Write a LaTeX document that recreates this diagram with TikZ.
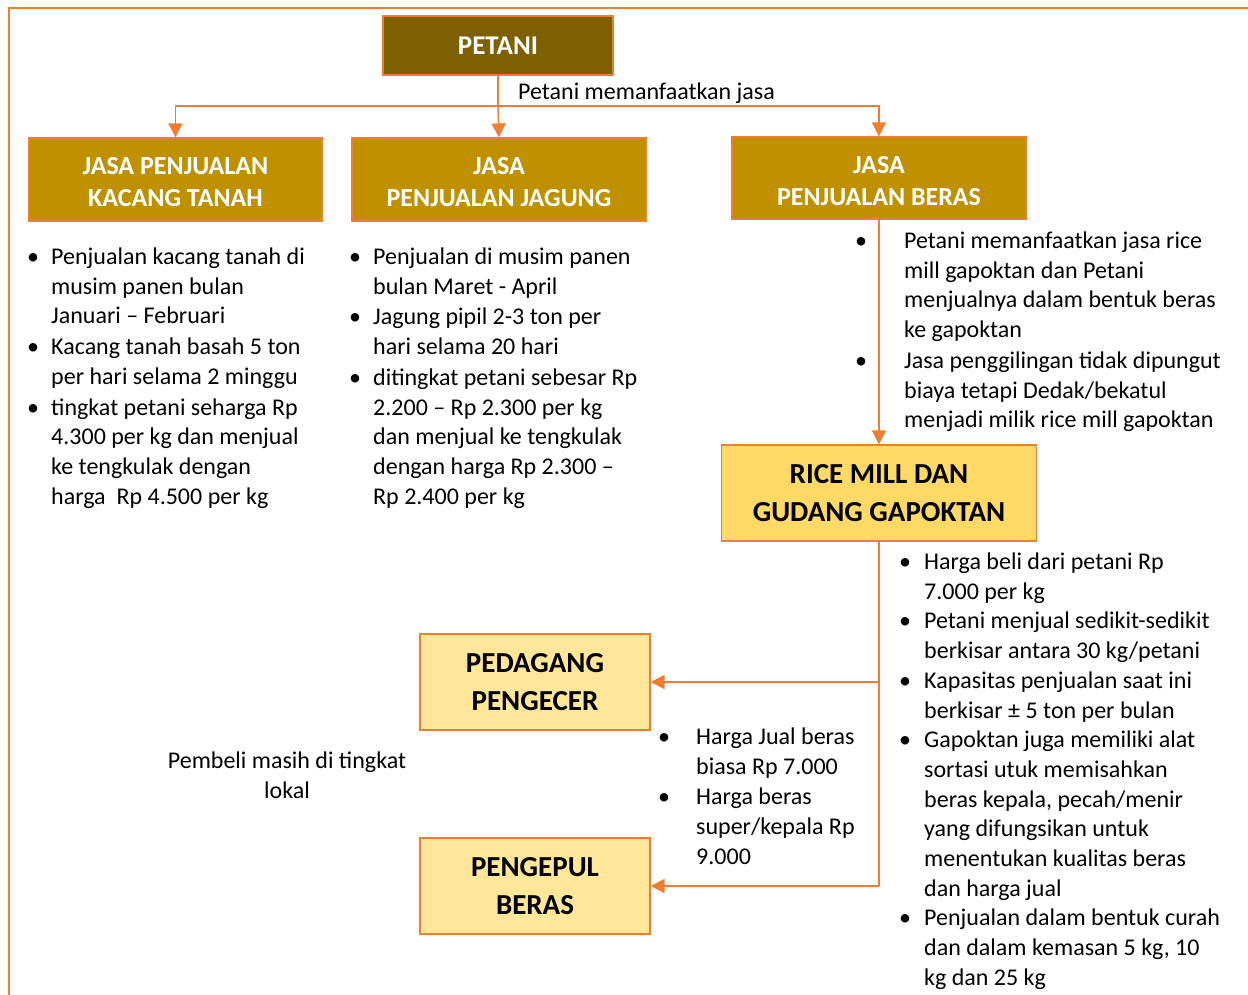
\documentclass[tikz,border=0pt]{standalone}
\usepackage{fontspec}
\setmainfont{Carlito}
\usetikzlibrary{arrows.meta}
\definecolor{frameor}{HTML}{ED7D31}
\definecolor{petanifill}{HTML}{7F6000}
\definecolor{jasafill}{HTML}{BF9000}
\definecolor{millfill}{HTML}{FFD966}
\definecolor{buyfill}{HTML}{FFE699}
\newcommand{\bu}[1]{\makebox[0pt]{\textbullet}\hspace{#1}}
\newcommand{\jtxt}[2]{\raisebox{-5pt}[\height][\depth]{\begin{tabular}{@{}c@{}}#1\\#2\end{tabular}}}
\tikzset{
  base/.style={draw=frameor, line width=1.2pt, inner sep=0pt, align=center},
  topbox/.style={base, fill=petanifill, text=white, font=\fontsize{27}{32}\selectfont\bfseries},
  jasabox/.style={base, fill=jasafill, text=white, minimum width=293pt, minimum height=83pt, font=\fontsize{26}{32}\selectfont\bfseries},
  millbox/.style={base, fill=millfill, font=\fontsize{29}{38.5}\selectfont\bfseries},
  buybox/.style={base, fill=buyfill, minimum width=230pt, minimum height=96pt, font=\fontsize{29}{38.5}\selectfont\bfseries},
  conn/.style={draw=frameor, line width=1.5pt},
  arr/.style={conn, -{Triangle[width=14pt,length=14pt]}},
  lst/.style={inner sep=0pt, anchor=base west, font=\fontsize{24}{29.7}\selectfont},
}
\begin{document}
\begin{tikzpicture}[x=1pt,y=-1pt]
\useasboundingbox (0,0) rectangle (1248,994);
\draw[frameor, line width=2.5pt] (9,1010) -- (9,8) -- (1260,8);

\node[topbox, minimum width=230pt, minimum height=59pt] (petani) at (498,45.5) {PETANI};
\node[jasabox] (kacang) at (175.5,179.5) {\jtxt{JASA PENJUALAN}{KACANG TANAH}};
\node[jasabox, minimum width=294pt] (jagung) at (499,179.5) {\jtxt{JASA}{PENJUALAN JAGUNG}};
\node[jasabox, minimum width=294pt, minimum height=82pt] (beras) at (879,178) {\jtxt{JASA}{PENJUALAN BERAS}};
\node[millbox, minimum width=315pt, minimum height=96pt] (mill) at (879,493) {RICE MILL DAN\\GUDANG GAPOKTAN};
\node[buybox] (pedagang) at (535,682) {PEDAGANG\\PENGECER};
\node[buybox] (pengepul) at (535,886) {PENGEPUL\\BERAS};

\coordinate (split) at (498,106);
\draw[conn] (petani.south) -- (split);
\draw[arr] (split) -| (kacang.north);
\draw[arr] (split) -- (jagung.north);
\draw[arr] (split) -| (beras.north);
\draw[arr] (beras.south) -- (mill.north);
\coordinate (m1) at (879,682);
\coordinate (m2) at (879,886);
\draw[conn] (mill.south) -- (m2);
\draw[arr] (m1) -- (pedagang.east);
\draw[arr] (m2) -- (pengepul.east);

\node[lst] (lbl) at (518,99.5) {Petani memanfaatkan jasa};

\node[lst] (l1) at (33,264.5) {\begin{tabular}[t]{@{}l@{}l@{}}
\bu{18pt} & Penjualan kacang tanah di\\
 & musim panen bulan\\
 & Januari – Februari\\[1pt]
\bu{18pt} & Kacang tanah basah 5 ton\\
 & per hari selama 2 minggu\\[1pt]
\bu{18pt} & tingkat petani seharga Rp\\
 & 4.300 per kg dan menjual\\
 & ke tengkulak dengan\\
 & harga\ \ Rp 4.500 per kg
\end{tabular}};

\node[lst] (l2) at (355,264.5) {\begin{tabular}[t]{@{}l@{}l@{}}
\bu{18pt} & Penjualan di musim panen\\
 & bulan Maret - April\\[1pt]
\bu{18pt} & Jagung pipil 2-3 ton per\\
 & hari selama 20 hari\\[1pt]
\bu{18pt} & ditingkat petani sebesar Rp\\
 & 2.200 – Rp 2.300 per kg\\
 & dan menjual ke tengkulak\\
 & dengan harga Rp 2.300 –\\
 & Rp 2.400 per kg
\end{tabular}};

\node[lst] (l3) at (861,248.5) {\begin{tabular}[t]{@{}l@{}l@{}}
\bu{43pt} & Petani memanfaatkan jasa rice\\
 & mill gapoktan dan Petani\\
 & menjualnya dalam bentuk beras\\
 & ke gapoktan\\[1pt]
\bu{43pt} & Jasa penggilingan tidak dipungut\\
 & biaya tetapi Dedak/bekatul\\
 & menjadi milik rice mill gapoktan
\end{tabular}};

\node[lst] (l4) at (905,569.5) {\begin{tabular}[t]{@{}l@{}l@{}}
\bu{19pt} & Harga beli dari petani Rp\\
 & 7.000 per kg\\
\bu{19pt} & Petani menjual sedikit-sedikit\\
 & berkisar antara 30 kg/petani\\
\bu{19pt} & Kapasitas penjualan saat ini\\
 & berkisar ± 5 ton per bulan\\
\bu{19pt} & Gapoktan juga memiliki alat\\
 & sortasi utuk memisahkan\\
 & beras kepala, pecah/menir\\
 & yang difungsikan untuk\\
 & menentukan kualitas beras\\
 & dan harga jual\\
\bu{19pt} & Penjualan dalam bentuk curah\\
 & dan dalam kemasan 5 kg, 10\\
 & kg dan 25 kg
\end{tabular}};

\node[lst] (l5) at (664,744.5) {\begin{tabular}[t]{@{}l@{}l@{}}
\bu{32pt} & Harga Jual beras\\
 & biasa Rp 7.000\\[1pt]
\bu{32pt} & Harga beras\\
 & super/kepala Rp\\
 & 9.000
\end{tabular}};

\node[lst, anchor=base] (pembeli) at (287,768.5) {\begin{tabular}[t]{@{}c@{}}
Pembeli masih di tingkat\\ lokal
\end{tabular}};
\end{tikzpicture}
\end{document}
